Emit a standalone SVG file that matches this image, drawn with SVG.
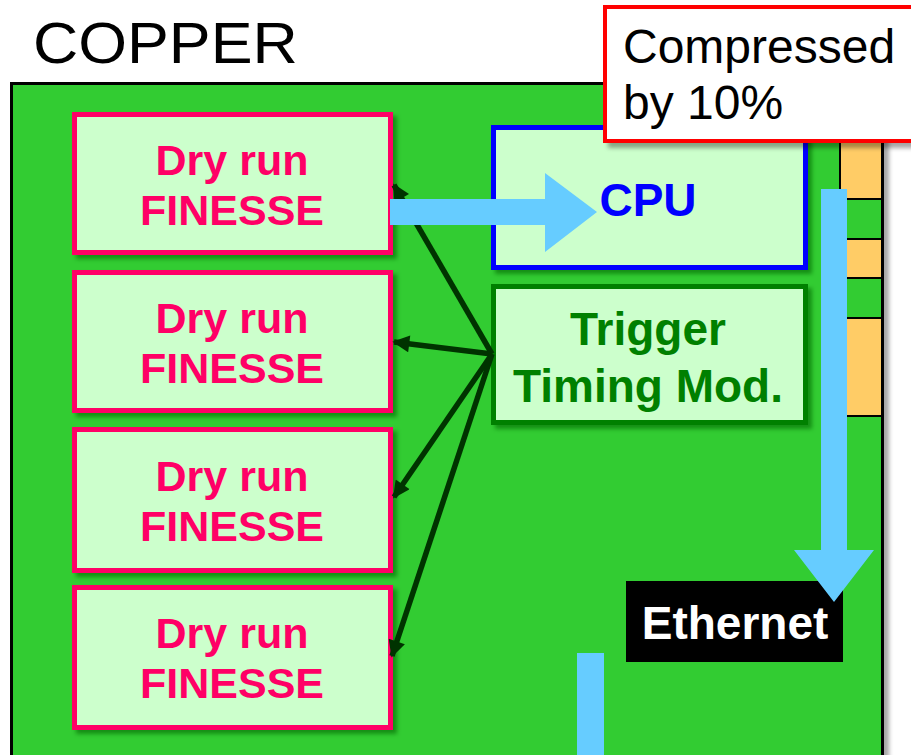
<svg xmlns="http://www.w3.org/2000/svg" width="911" height="755" viewBox="0 0 911 755">
<style>
.lbl{font-family:"Liberation Sans",Arial,sans-serif;font-weight:bold;text-anchor:middle}
.fin{fill:#CCFFCC;stroke:#FF0066;stroke-width:5}
.fint{font-size:43px;fill:#FF0066}
.conn{stroke:#003300;stroke-width:5.5;fill:none;marker-end:url(#ah)}
.blue{fill:#66CCFF}
.org{fill:#FFCC66;stroke:#000;stroke-width:2}
</style>
<defs>
<filter id="sh" x="-10%" y="-10%" width="130%" height="130%">
<feDropShadow dx="4" dy="4" stdDeviation="2" flood-color="#006600" flood-opacity="0.6"/>
</filter>
<filter id="gsh" x="-10%" y="-10%" width="130%" height="130%">
<feDropShadow dx="5" dy="5" stdDeviation="2" flood-color="#000" flood-opacity="0.35"/>
</filter>
<marker id="ah" viewBox="0 0 10 10" refX="9" refY="5" markerUnits="userSpaceOnUse" markerWidth="20" markerHeight="17" orient="auto">
<path d="M0,0 L10,5 L0,10 z" fill="#003300"/>
</marker>
</defs>
<rect width="911" height="755" fill="#fff"/>
<text transform="translate(33 63) scale(1.1 1)" font-family="Liberation Sans,Arial,sans-serif" font-size="57" fill="#000">COPPER</text>
<g id="board">
<rect x="11.5" y="83.5" width="871" height="680" fill="#33CC33" stroke="#000" stroke-width="3" filter="url(#gsh)"/>
<rect class="org" x="840" y="83" width="42" height="116"/>
<rect class="org" x="840" y="239" width="42" height="39"/>
<rect class="org" x="840" y="318" width="42" height="98"/>
</g>
<g id="finesse1"><rect class="fin" x="74.5" y="114.5" width="316" height="138" filter="url(#sh)"/>
<text class="lbl fint" x="232" y="175">Dry run</text><text class="lbl fint" x="232" y="225">FINESSE</text></g>
<g id="finesse2"><rect class="fin" x="74.5" y="272.5" width="316" height="138" filter="url(#sh)"/>
<text class="lbl fint" x="232" y="333">Dry run</text><text class="lbl fint" x="232" y="383">FINESSE</text></g>
<g id="finesse3"><rect class="fin" x="74.5" y="429.5" width="316" height="141" filter="url(#sh)"/>
<text class="lbl fint" x="232" y="491">Dry run</text><text class="lbl fint" x="232" y="541">FINESSE</text></g>
<g id="finesse4"><rect class="fin" x="74.5" y="587.5" width="316" height="140" filter="url(#sh)"/>
<text class="lbl fint" x="232" y="648">Dry run</text><text class="lbl fint" x="232" y="698">FINESSE</text></g>
<g id="cpu"><rect x="493.5" y="127.5" width="312" height="140" fill="#CCFFCC" stroke="#0000FF" stroke-width="5" filter="url(#sh)"/>
<text class="lbl" x="648" y="216" font-size="46" fill="#0000FF">CPU</text></g>
<g id="ttm"><rect x="493.5" y="286.5" width="312" height="136" fill="#CCFFCC" stroke="#008000" stroke-width="5" filter="url(#sh)"/>
<text class="lbl" x="648" y="345" font-size="46" fill="#008000">Trigger</text>
<text class="lbl" x="648" y="402" font-size="46" fill="#008000">Timing Mod.</text></g>
<g id="ethernet"><rect x="626" y="581" width="217" height="81" fill="#000"/>
<text class="lbl" x="735" y="639" font-size="46" fill="#fff">Ethernet</text></g>
<g id="connectors">
<line class="conn" x1="492" y1="354" x2="394" y2="185"/>
<line class="conn" x1="492" y1="354" x2="394" y2="342"/>
<line class="conn" x1="492" y1="354" x2="394" y2="497"/>
<line class="conn" x1="492" y1="354" x2="392" y2="656"/>
<path class="blue" d="M390,199 L545,199 L545,173 L597,212 L545,252 L545,225 L390,225 z"/>
<path class="blue" d="M821,189 L847,189 L847,550 L874,550 L834,602 L794,550 L821,550 z"/>
<rect class="blue" x="577" y="653" width="27" height="102"/>
</g>
<g id="callout"><rect x="605" y="7" width="320" height="134" fill="#fff" stroke="#FF0000" stroke-width="4" filter="url(#gsh)"/>
<text x="623" y="63" font-family="Liberation Sans,Arial,sans-serif" font-size="48" fill="#000">Compressed</text>
<text x="623" y="119" font-family="Liberation Sans,Arial,sans-serif" font-size="48" fill="#000">by 10%</text></g>
</svg>
